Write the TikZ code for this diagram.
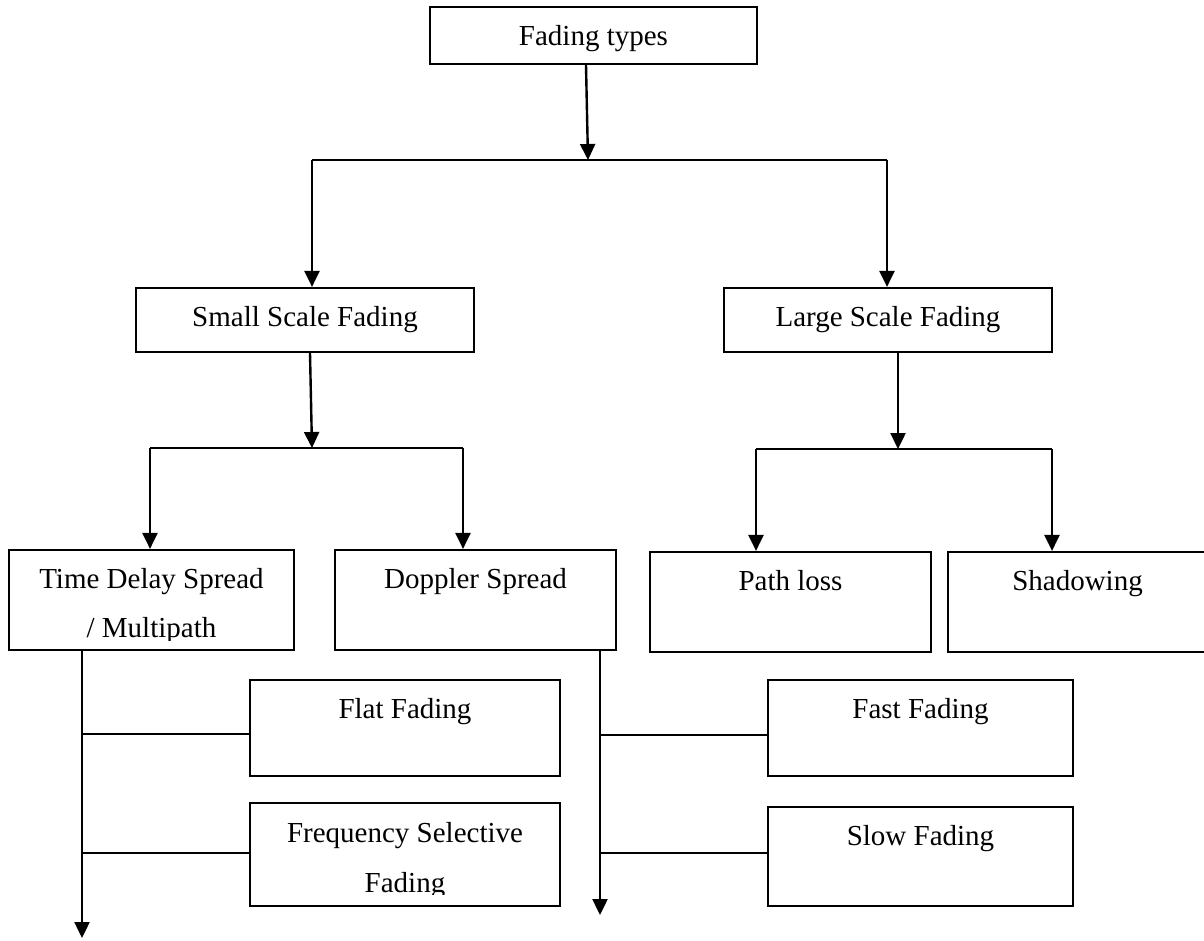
\documentclass[tikz,border=0pt]{standalone}
\usepackage{fontspec}
\setmainfont{Liberation Serif}
\usetikzlibrary{arrows.meta}
\begin{document}
\begin{tikzpicture}[x=1pt,y=-1pt,
  box/.style={draw, line width=2.2pt, inner sep=0pt},
  lbl/.style={anchor=base, inner sep=0pt, font=\fontsize{29}{50}\selectfont},
  link/.style={line width=2.4pt},
  arr/.style={line width=2.4pt, -{Triangle[width=15pt,length=16pt]}}]
\useasboundingbox (0,0) rectangle (1204,940);
\clip (0,0) rectangle (1204,940);

% ---- boxes ----
\node[box, minimum width=327pt, minimum height=57pt]  (ft)   at (593.5,35.5) {};
\node[box, minimum width=338pt, minimum height=64pt]  (ssf)  at (305,320) {};
\node[box, minimum width=328pt, minimum height=64pt]  (lsf)  at (888,320) {};
\node[box, minimum width=285pt, minimum height=100pt] (tds)  at (151.5,600) {};
\node[box, minimum width=281pt, minimum height=100pt] (dop)  at (475.5,600) {};
\node[box, minimum width=281pt, minimum height=100pt] (pl)   at (790.5,602) {};
\node[box, minimum width=259pt, minimum height=100pt] (sh)   at (1077.5,602) {};
\node[box, minimum width=310pt, minimum height=96pt]  (flat) at (405,728) {};
\node[box, minimum width=310pt, minimum height=103pt] (fsf)  at (405,854.5) {};
\node[box, minimum width=305pt, minimum height=96pt]  (fast) at (920.5,728) {};
\node[box, minimum width=305pt, minimum height=99pt]  (slow) at (920.5,856.5) {};

% ---- labels ----
\node[lbl] (t-ft)   at (593.5,45)  {Fading types};
\node[lbl] (t-ssf)  at (305,326)   {Small Scale Fading};
\node[lbl] (t-lsf)  at (888,326)   {Large Scale Fading};
\begin{scope}
  \clip (9,550) rectangle (294,640);
  \node[lbl] (t-tds1) at (151.5,588) {Time Delay Spread};
  \node[lbl] (t-tds2) at (151.5,637) {/ Multipath};
\end{scope}
\node[lbl] (t-dop)  at (475.5,588) {Doppler Spread};
\node[lbl] (t-pl)   at (790.5,590) {Path loss};
\node[lbl] (t-sh)   at (1077.5,590) {Shadowing};
\node[lbl] (t-flat) at (405,718)   {Flat Fading};
\begin{scope}
  \clip (250,803) rectangle (560,894);
  \node[lbl] (t-fsf1) at (405,842) {Frequency Selective};
  \node[lbl] (t-fsf2) at (405,892) {Fading};
\end{scope}
\node[lbl] (t-fast) at (920.5,718) {Fast Fading};
\node[lbl] (t-slow) at (920.5,845) {Slow Fading};

% ---- junction points ----
\coordinate (j1)  at (588,160);
\coordinate (b1l) at (312,160);
\coordinate (b1r) at (887,160);
\coordinate (j2)  at (312,448);
\coordinate (b2l) at (150,448);
\coordinate (b2r) at (463,448);
\coordinate (j3)  at (898,449);
\coordinate (b3l) at (756,449);
\coordinate (b3r) at (1052,449);
\coordinate (s1)  at (82,650);
\coordinate (e1)  at (82,938);
\coordinate (c1)  at (82,734);
\coordinate (c2)  at (82,853);
\coordinate (s2)  at (600,650);
\coordinate (e2)  at (600,915);
\coordinate (c3)  at (600,735);
\coordinate (c4)  at (600,853);

% ---- first split ----
\draw[arr] ([xshift=-7.5pt]ft.south) -- (j1);
\draw[link] (b1l) -- (b1r);
\draw[arr] (b1l) -- (b1l |- ssf.north);
\draw[arr] (b1r) -- (b1r |- lsf.north);

% ---- small scale split ----
\draw[arr] ([xshift=5pt]ssf.south) -- (j2);
\draw[link] (b2l) -- (b2r);
\draw[arr] (b2l) -- (b2l |- tds.north);
\draw[arr] (b2r) -- (b2r |- dop.north);

% ---- large scale split ----
\draw[arr] ([xshift=10pt]lsf.south) -- (j3);
\draw[link] (b3l) -- (b3r);
\draw[arr] (b3l) -- (b3l |- pl.north);
\draw[arr] (b3r) -- (b3r |- sh.north);

% ---- time delay spread branch ----
\draw[arr] (s1) -- (e1);
\draw[link] (c1) -- (c1 -| flat.west);
\draw[link] (c2) -- (c2 -| fsf.west);

% ---- doppler spread branch ----
\draw[arr] (s2) -- (e2);
\draw[link] (c3) -- (c3 -| fast.west);
\draw[link] (c4) -- (c4 -| slow.west);
\end{tikzpicture}
\end{document}
